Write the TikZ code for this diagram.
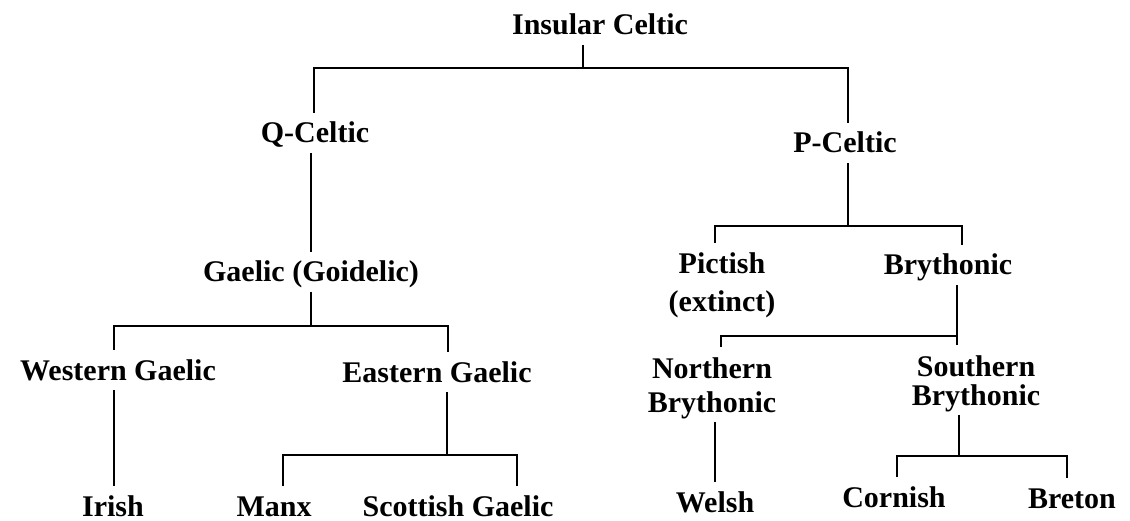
\documentclass[tikz,border=0pt]{standalone}
\usepackage{fontspec}
\setmainfont{Liberation Serif}

\begin{document}
\begin{tikzpicture}[x=1pt,y=-1pt,
    lang/.style={font=\bfseries\fontsize{30}{36}\selectfont, inner sep=0pt, outer sep=10pt,
                 anchor=base, align=center, text height=20pt, text depth=0pt},
    lang2/.style={font=\bfseries\fontsize{30}{36}\selectfont, inner sep=0pt, outer sep=10pt,
                 anchor=base, align=center, text depth=0pt},
    branch/.style={line width=2pt}]
  \useasboundingbox[fill=white] (0,0) rectangle (1130,521);

  % languages
  \node[lang] (insular)   at (600,35)  {Insular Celtic};
  \node[lang] (qceltic)   at (315,143) {Q-Celtic};
  \node[lang] (pceltic)   at (845,153) {P-Celtic};
  \node[lang] (gaelic)    at (311,282) {Gaelic (Goidelic)};
  \node[lang] (western)   at (118,380) {Western Gaelic};
  \node[lang] (eastern)   at (437,382) {Eastern Gaelic};
  \node[lang] (irish)     at (113,516) {Irish};
  \node[lang] (manx)      at (274,516) {Manx};
  \node[lang] (scottish)  at (458,516) {Scottish Gaelic};
  \node[lang2] (pictish)  at (722,312) {Pictish\\[2pt](extinct)};
  \node[lang] (brythonic) at (948,275) {Brythonic};
  \node[lang2] (northern) at (712,412) {Northern\\[-2pt]Brythonic};
  \node[lang2] (southern) at (976,405) {Southern\\[-7pt]Brythonic};
  \node[lang] (welsh)     at (715,512) {Welsh};
  \node[lang] (cornish)   at (894,507) {Cornish};
  \node[lang] (breton)    at (1072,508) {Breton};

  % junctions
  \coordinate (tl) at (314,68);  \coordinate (tm) at (583,68);  \coordinate (tr) at (848,68);
  \coordinate (gl) at (114,326); \coordinate (gm) at (311,326); \coordinate (gr) at (448,326);
  \coordinate (el) at (283,455); \coordinate (em) at (447,455); \coordinate (er) at (517,455);
  \coordinate (pl) at (715,226); \coordinate (pm) at (848,226); \coordinate (pr) at (962,226);
  \coordinate (bl) at (721,336); \coordinate (bm) at (957,336);
  \coordinate (sl) at (897,456); \coordinate (sm) at (959,456); \coordinate (sr) at (1067,456);

  % branches
  \draw[branch] (tm |- insular.south) -- (tm);
  \draw[branch] (tl |- qceltic.north) -- (tl) -- (tr) -- (tr |- pceltic.north);
  \draw[branch] (gaelic.north |- qceltic.south) -- (gaelic.north);
  \draw[branch] (gaelic.south) -- (gm);
  \draw[branch] (gl |- western.north) -- (gl) -- (gr) -- (gr |- eastern.north);
  \draw[branch] (gl |- western.south) -- (gl |- irish.north);
  \draw[branch] (em |- eastern.south) -- (em);
  \draw[branch] (el |- manx.north) -- (el) -- (er) -- (er |- scottish.north);
  \draw[branch] (pm |- pceltic.south) -- (pm);
  \draw[branch] (pl |- pictish.north) -- (pl) -- (pr) -- (pr |- brythonic.north);
  \draw[branch] (bm |- brythonic.south) -- (bm |- southern.north);
  \draw[branch] (bm) -- (bl) -- (bl |- northern.north);
  \draw[branch] (welsh.north |- northern.south) -- (welsh.north);
  \draw[branch] (sm |- southern.south) -- (sm);
  \draw[branch] (sl |- cornish.north) -- (sl) -- (sr) -- (sr |- breton.north);
\end{tikzpicture}
\end{document}
